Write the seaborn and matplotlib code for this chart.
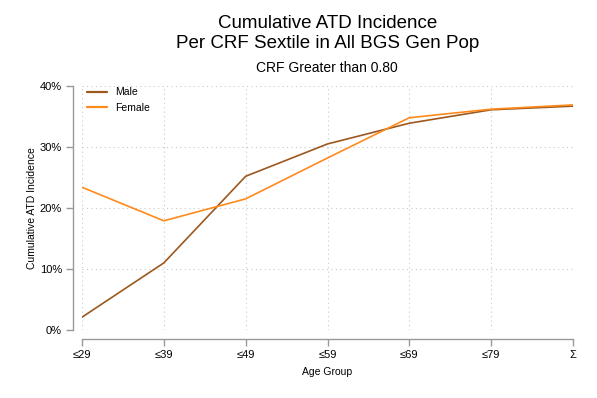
import matplotlib.pyplot as plt
import matplotlib.ticker as mticker
import seaborn as sns
import pandas as pd
import numpy as np

age_groups = ['≤29', '≤39', '≤49', '≤59', '≤69', '≤79', 'Σ']
male = [0.021, 0.110, 0.252, 0.305, 0.339, 0.361, 0.367]
female = [0.234, 0.179, 0.215, 0.282, 0.348, 0.362, 0.369]

df = pd.DataFrame({
    'pos': list(range(len(age_groups))) * 2,
    'value': male + female,
    'sex': ['Male'] * len(male) + ['Female'] * len(female),
})

sns.set_style('white')
plt.rcParams['font.family'] = ['Liberation Sans', 'DejaVu Sans']
plt.rcParams['text.color'] = 'black'
plt.rcParams['axes.labelcolor'] = 'black'

fig = plt.figure(figsize=(5.97, 3.98), dpi=100)
ax = fig.add_axes([82 / 597, 1 - 330 / 398, (573 - 82) / 597, (330 - 86) / 398])

sns.lineplot(data=df, x='pos', y='value', hue='sex',
             palette={'Male': '#9c581e', 'Female': '#ff8a1c'},
             linewidth=1.2, ax=ax)

ax.set_xlim(0, 6)
ax.set_ylim(0, 0.4)
ax.set_xticks(range(len(age_groups)))
ax.set_xticklabels(age_groups)
ax.set_yticks([0, 0.1, 0.2, 0.3, 0.4])
ax.yaxis.set_major_formatter(mticker.PercentFormatter(1.0, decimals=0))

ax.grid(True, linestyle=(0, (1, 3)), color='#c8c8c8', linewidth=0.8)
for s in ['top', 'right']:
    ax.spines[s].set_visible(False)
for s in ['left', 'bottom']:
    ax.spines[s].set_position(('outward', 6.5))
    ax.spines[s].set_color('#999999')
    ax.spines[s].set_linewidth(1.0)
ax.tick_params(axis='both', which='major', length=5, width=1, color='#999999',
               labelsize=8, labelcolor='black', direction='out',
               bottom=True, left=True, pad=3)

ax.set_xlabel('Age Group', fontsize=7.5, labelpad=5)
ax.set_ylabel('Cumulative ATD Incidence', fontsize=7.5, labelpad=2)

leg = ax.legend(loc='upper left', frameon=False, fontsize=7.5,
                handlelength=1.9, borderaxespad=0.2, labelspacing=0.55,
                bbox_to_anchor=(-0.003, 1.02))
for h in leg.get_lines():
    h.set_linewidth(1.6)

fig.text(0.548, 1 - 24 / 398, 'Cumulative ATD Incidence',
         ha='center', va='center', fontsize=13.5)
fig.text(0.548, 1 - 44 / 398, 'Per CRF Sextile in All BGS Gen Pop',
         ha='center', va='center', fontsize=13.5)
fig.text(0.548, 1 - 68 / 398, 'CRF Greater than 0.80',
         ha='center', va='center', fontsize=10)

fig.savefig('out.png', dpi=100, facecolor='white')
